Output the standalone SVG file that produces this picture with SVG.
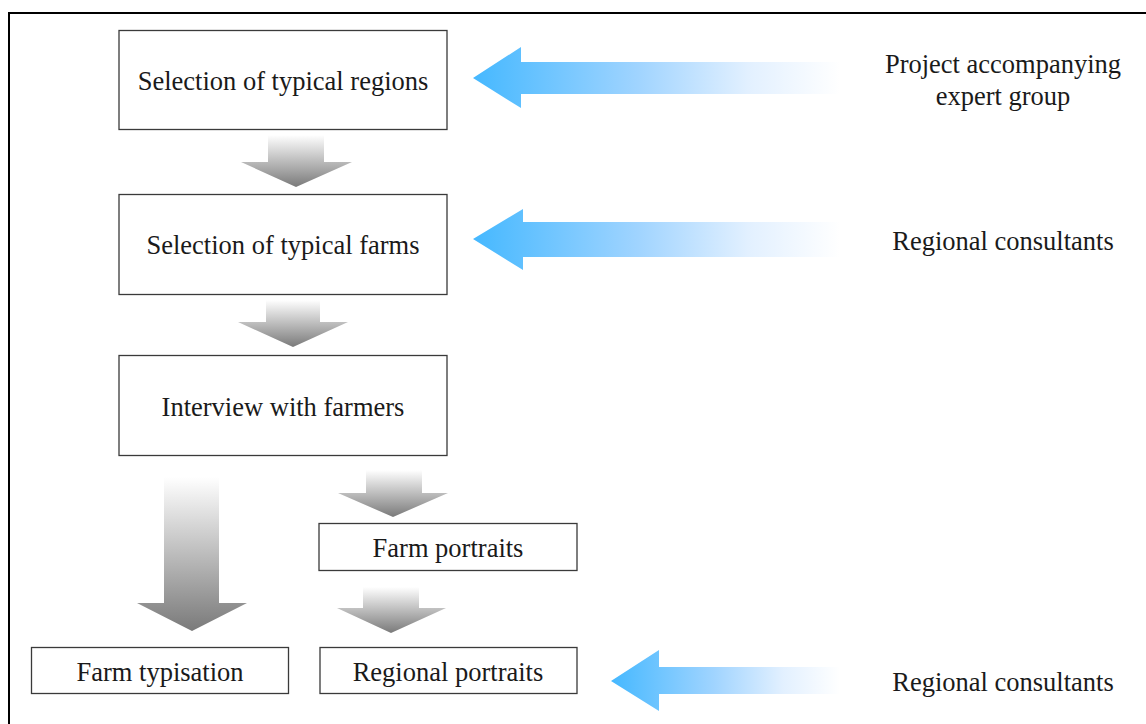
<svg xmlns="http://www.w3.org/2000/svg" width="1146" height="724" viewBox="0 0 1146 724">
<defs>
<linearGradient id="gray" x1="0" y1="0" x2="0" y2="1">
<stop offset="0" stop-color="#ffffff"/>
<stop offset="1" stop-color="#7a7a7a"/>
</linearGradient>
<linearGradient id="blue" x1="0" y1="0" x2="1" y2="0">
<stop offset="0" stop-color="#45b8ff"/>
<stop offset="0.45" stop-color="#a0d4ff"/>
<stop offset="0.75" stop-color="#e2f0ff"/>
<stop offset="1" stop-color="#ffffff"/>
</linearGradient>
<style>
.box{fill:#fff;stroke:#3a3a3a;stroke-width:1.3}
.t{font-family:"Liberation Serif","Times New Roman",serif;font-size:26.5px;fill:#1a1a1a;text-anchor:middle}
.g{fill:url(#gray)}
.b{fill:url(#blue)}
</style>
</defs>
<rect x="0" y="0" width="1146" height="724" fill="#fff"/>
<rect x="9" y="13" width="1150" height="730" fill="none" stroke="#000" stroke-width="2"/>

<g id="connectors">
<path class="g" d="M268,135 H324 V162 H352 L296,187 L241,162 H268 Z"/>
<path class="g" d="M266,300 H320 V322 H348 L293,347 L238,322 H266 Z"/>
<path class="g" d="M164,477 H219 V603 H247 L192,631 L137,603 H164 Z"/>
<path class="g" d="M366,470 H422 V493 H448 L393,517 L338,493 H366 Z"/>
<path class="g" d="M363,587 H419 V608 H446 L391,633 L337,608 H363 Z"/>
<path class="b" d="M473,78 L521,47 V62 H840 V94 H521 V108 Z"/>
<path class="b" d="M473,239 L523,209 V222 H840 V257 H523 V270 Z"/>
<path class="b" d="M611,681 L659,650 V667 H840 V694 H659 V711 Z"/>
</g>

<g id="n1"><rect class="box" x="119" y="30.5" width="328" height="99"/><text class="t" x="283" y="90">Selection of typical regions</text></g>
<g id="n2"><rect class="box" x="119" y="194.5" width="328" height="100"/><text class="t" x="283" y="254">Selection of typical farms</text></g>
<g id="n3"><rect class="box" x="119" y="355.5" width="328" height="100"/><text class="t" x="283" y="416">Interview with farmers</text></g>
<g id="n4"><rect class="box" x="319" y="523.5" width="258" height="47"/><text class="t" x="448" y="557">Farm portraits</text></g>
<g id="n5"><rect class="box" x="31.5" y="647.5" width="257" height="46"/><text class="t" x="160" y="681">Farm typisation</text></g>
<g id="n6"><rect class="box" x="320" y="647.5" width="257" height="46"/><text class="t" x="448" y="681">Regional portraits</text></g>
<g id="n7"><text class="t" x="1003" y="73">Project accompanying</text><text class="t" x="1003" y="105">expert group</text></g>
<g id="n8"><text class="t" x="1003" y="250">Regional consultants</text></g>
<g id="n9"><text class="t" x="1003" y="691">Regional consultants</text></g>
</svg>
